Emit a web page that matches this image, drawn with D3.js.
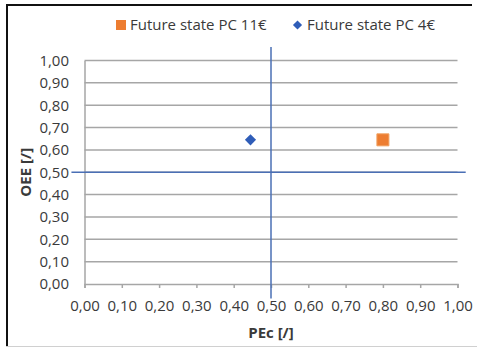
<!DOCTYPE html>
<html>
<head>
<meta charset="utf-8">
<script src="https://cdn.jsdelivr.net/npm/d3@7"></script>
<style>
  html, body { margin: 0; padding: 0; background: #fff; }
  svg { display: block; }
  text { font-family: "Open Sans", "Noto Sans", sans-serif; fill: #3a3a3a; }
</style>
</head>
<body>
<svg id="chart" width="477" height="347"></svg>
<script>
// Scatter series: PEc on x, OEE on y
const seriesNames = ["Future state PC 11€", "Future state PC 4€"];
const seriesColors = ["#ED7D31", "#2F5DB8"];
const seriesShapes = ["square", "diamond"];
const pecValues = [0.80, 0.445];
const oeeValues = [0.645, 0.645];

// Threshold cross lines at 0.5 (value, extent start, extent end)
const pecThreshold = [0.5, -0.065, 1.06];
const oeeThreshold = [0.5, -0.035, 1.022];

const tickValues = [0, 0.1, 0.2, 0.3, 0.4, 0.5, 0.6, 0.7, 0.8, 0.9, 1.0];
const xTitle = "PEc [/]";
const yTitle = "OEE [/]";

const svg = d3.select("#chart");
const W = 477, H = 347;
const FS = 15;
const fmt = v => d3.format(".2f")(v).replace(".", ",");

// frame
svg.append("line").attr("x1", 6).attr("x2", 472).attr("y1", 5).attr("y2", 5)
  .attr("stroke", "#111").attr("stroke-width", 2);
svg.append("line").attr("x1", 7).attr("x2", 7).attr("y1", 4).attr("y2", H)
  .attr("stroke", "#111").attr("stroke-width", 2);
svg.append("line").attr("x1", 6).attr("x2", W).attr("y1", 346.5).attr("y2", 346.5)
  .attr("stroke", "#d0d0d0").attr("stroke-width", 1);

const x = d3.scaleLinear().domain([0, 1]).range([84.5, 457.5]);
const y = d3.scaleLinear().domain([0, 1]).range([284, 60.5]);

// gridlines
svg.append("g").selectAll("line").data(tickValues.slice(1)).join("line")
  .attr("x1", x(0)).attr("x2", x(1))
  .attr("y1", d => y(d)).attr("y2", d => y(d))
  .attr("stroke", "#a6a6a6").attr("stroke-width", 1.5);

// y axis
const yAxis = svg.append("g").attr("transform", `translate(${x(0)},0)`)
  .call(d3.axisLeft(y).tickValues(tickValues).tickFormat(fmt).tickSize(0).tickPadding(15.5));
yAxis.select(".domain").attr("stroke", "#a6a6a6").attr("stroke-width", 1.5);
yAxis.selectAll("text").attr("font-size", FS).style("fill", "#3a3a3a")
  .style("font-family", "'Open Sans', sans-serif");

// x axis
const xAxis = svg.append("g").attr("transform", `translate(0,${y(0)})`)
  .call(d3.axisBottom(x).tickValues(tickValues).tickFormat(fmt).tickSize(4).tickSizeOuter(4));
xAxis.select(".domain").attr("stroke", "#a6a6a6").attr("stroke-width", 1.5);
xAxis.selectAll(".tick line").attr("stroke", "#a6a6a6").attr("stroke-width", 1.5);
xAxis.selectAll("text").attr("font-size", FS).attr("y", 27).attr("dy", null)
  .style("fill", "#3a3a3a").style("font-family", "'Open Sans', sans-serif");

// threshold lines
svg.append("line")
  .attr("x1", x(pecThreshold[0])).attr("x2", x(pecThreshold[0]))
  .attr("y1", y(pecThreshold[2])).attr("y2", y(pecThreshold[1]))
  .attr("stroke", "#4a6fb5").attr("stroke-width", 1.5);
svg.append("line")
  .attr("x1", x(oeeThreshold[1])).attr("x2", x(oeeThreshold[2]))
  .attr("y1", y(oeeThreshold[0])).attr("y2", y(oeeThreshold[0]))
  .attr("stroke", "#4a6fb5").attr("stroke-width", 1.5);

// markers
const squareSym = d3.symbol().type(d3.symbolSquare).size(144);
const diamondSym = d3.symbol().type(d3.symbolSquare).size(62);
const points = pecValues.map((v, i) => ({ pec: v, oee: oeeValues[i], i }));
svg.append("g").selectAll("path").data(points).join("path")
  .attr("d", d => seriesShapes[d.i] === "square" ? squareSym() : diamondSym())
  .attr("transform", d => `translate(${x(d.pec)},${y(d.oee)})` + (seriesShapes[d.i] === "diamond" ? " rotate(45)" : ""))
  .attr("fill", d => seriesColors[d.i])
  .attr("stroke", d => seriesShapes[d.i] === "square" ? "#f0a060" : "none")
  .attr("stroke-width", 1);

// axis titles
svg.append("text").attr("x", x(0.5)).attr("y", 337.5).attr("text-anchor", "middle")
  .attr("font-size", FS).attr("font-weight", "bold").text(xTitle);
svg.append("text").attr("transform", `translate(30.5,${y(0.5)}) rotate(-90)`).attr("text-anchor", "middle")
  .attr("font-size", FS).attr("font-weight", "bold").text(yTitle);

// legend
const legendX = [116, 292];
const lg = svg.append("g");
seriesNames.forEach((name, i) => {
  const g = lg.append("g").attr("transform", `translate(${legendX[i]},25)`);
  if (seriesShapes[i] === "square") {
    g.append("rect").attr("x", 0).attr("y", -5).attr("width", 10).attr("height", 10)
      .attr("fill", seriesColors[i]);
    g.append("text").attr("x", 14).attr("y", 5).attr("font-size", FS).text(name);
  } else {
    g.append("path").attr("d", d3.symbol().type(d3.symbolSquare).size(42)())
      .attr("transform", "translate(5.5,0) rotate(45)").attr("fill", seriesColors[i]);
    g.append("text").attr("x", 15).attr("y", 5).attr("font-size", FS).text(name);
  }
});
</script>
</body>
</html>
